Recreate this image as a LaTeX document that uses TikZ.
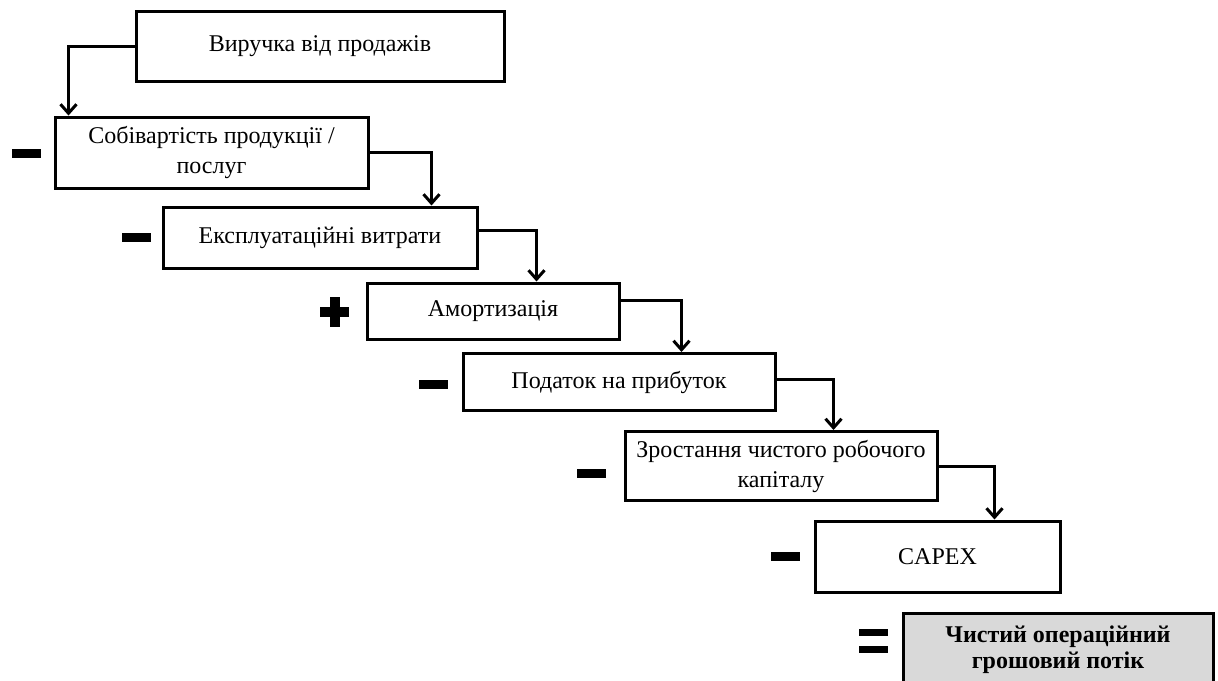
\documentclass[tikz,border=0pt]{standalone}
\usepackage{fontspec}
\setmainfont{Liberation Serif}
\usetikzlibrary{arrows.meta,calc}

\begin{document}
\begin{tikzpicture}[
            x=1pt, y=-1pt,
            stage/.style={rectangle, draw, line width=3pt, align=center, inner sep=2pt, font=\fontsize{24}{30}\selectfont},
            total/.style={stage, fill=black!15, font=\fontsize{24}{26}\selectfont\bfseries},
            bar/.style={rectangle, fill=black, inner sep=0pt, minimum width=29pt, minimum height=9pt},
            vbar/.style={rectangle, fill=black, inner sep=0pt, minimum width=10pt, minimum height=30pt},
            flow/.style={-{Straight Barb[length=9pt,width=16pt]}, line width=3pt},
        ]
            \clip (0,0) rectangle (1218,680);
            \fill[white] (0,0) rectangle (1218,680);

            % Stages of the calculation
            \node[stage, minimum width=368pt, minimum height=70pt] (revenue) at (320, 46) {Виручка від продажів};
            \node[stage, minimum width=313pt, minimum height=71pt] (cost) at (211.5, 152.5) {Собівартість продукції /\\послуг};
            \node[stage, minimum width=314pt, minimum height=61pt] (opex) at (320, 237.5) {Експлуатаційні витрати};
            \node[stage, minimum width=252pt, minimum height=56pt] (amort) at (493, 311) {Амортизація};
            \node[stage, minimum width=312pt, minimum height=57pt] (tax) at (619, 382) {Податок на прибуток};
            \node[stage, minimum width=312pt, minimum height=69pt] (wcap) at (781, 466) {Зростання чистого робочого\\капіталу};
            \node[stage, minimum width=245pt, minimum height=71pt] (capex) at (937.5, 556.5) {CAPEX};
            \node[total, minimum width=310pt, minimum height=74pt] (fcf) at (1058, 650) {Чистий операційний\\грошовий потік};

            % Signs in front of the stages
            \node[bar] (minus1) at (26.5, 153) {};
            \node[bar] (minus2) at (136.5, 237.5) {};
            \node[vbar] (plusv) at (334.5, 312) {};
            \node[bar, minimum height=10pt] (plush) at (334.5, 312) {};
            \node[bar] (minus3) at (433, 384) {};
            \node[bar] (minus4) at (591, 473) {};
            \node[bar] (minus5) at (785, 556.5) {};
            \node[bar, minimum height=7pt] (eqtop) at (873, 632) {};
            \node[bar, minimum height=7pt] (eqbot) at (873, 649.5) {};

            % Flow between the stages
            \draw[flow] (revenue.west) -| ($(cost.north west)+(15,0)$);
            \draw[flow] (cost.east) -| ($(opex.north east)+(-47,0)$);
            \draw[flow] ([yshift=7.5pt]opex.east) -| ($(amort.north west)+(171,0)$);
            \draw[flow] ([yshift=11pt]amort.east) -| ($(tax.north west)+(220,0)$);
            \draw[flow] ([yshift=3pt]tax.east) -| ($(wcap.north west)+(210,0)$);
            \draw[flow] (wcap.east) -| ($(capex.north west)+(181,0)$);
\end{tikzpicture}
\end{document}
